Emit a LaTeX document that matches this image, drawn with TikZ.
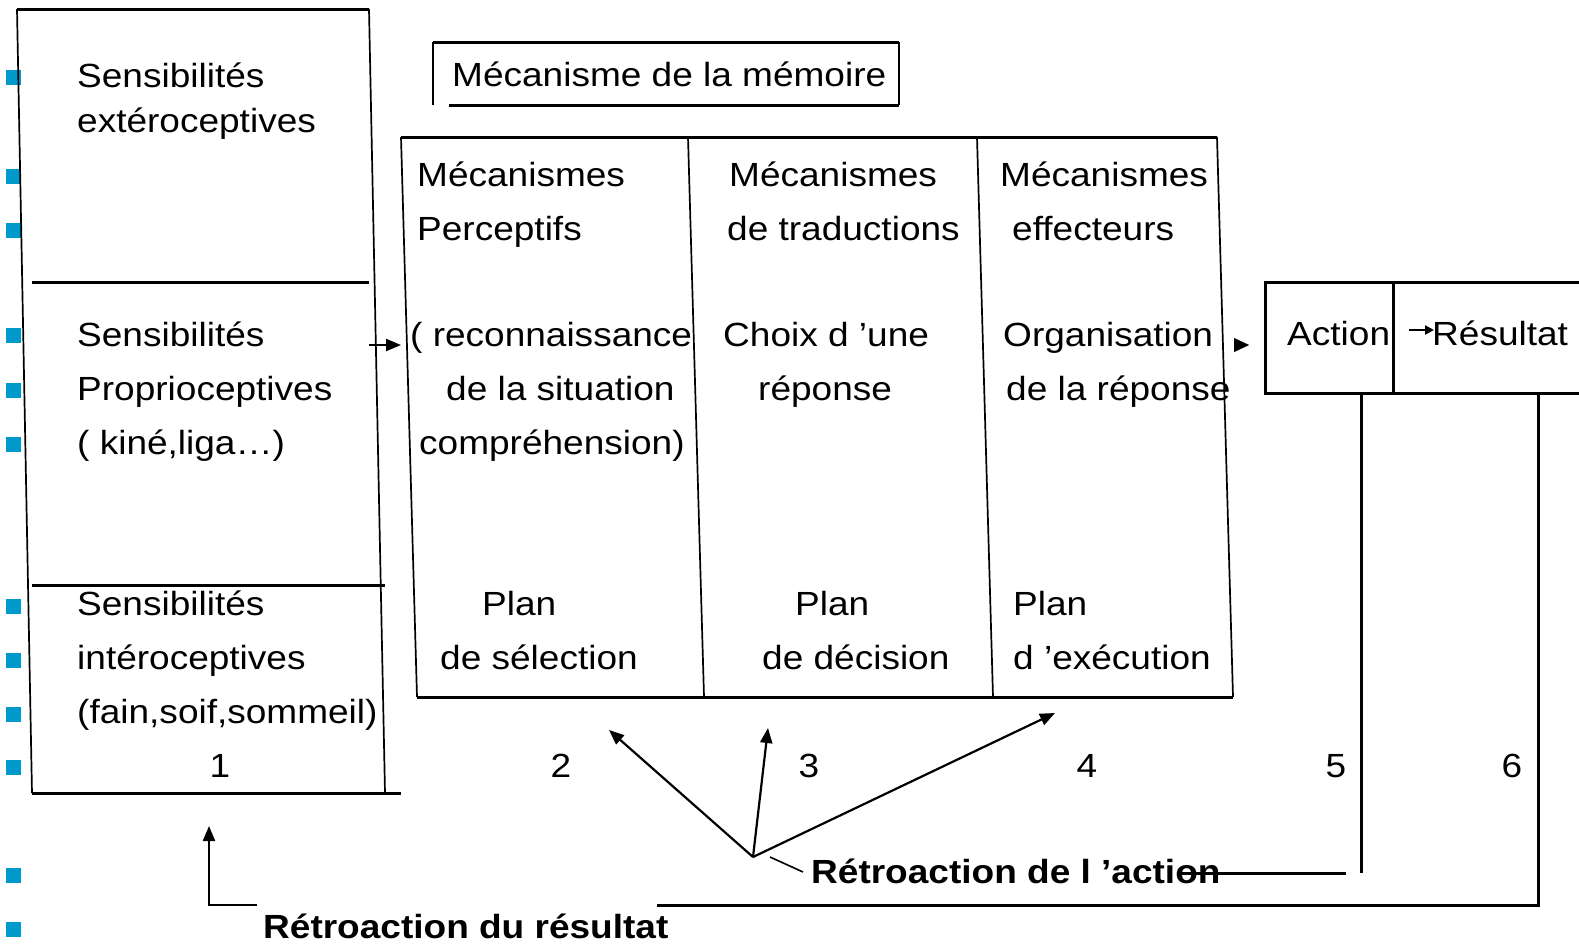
\documentclass[tikz,border=0pt]{standalone}
\usepackage{fontspec}
\setmainfont{Liberation Sans}[FakeStretch=1.105]
\usetikzlibrary{arrows.meta}
\definecolor{bulletblue}{RGB}{0,153,204}
\begin{document}
\begin{tikzpicture}[x=1pt,y=-1pt,
  txt/.style={anchor=base west, inner sep=0pt, font=\fontsize{33.5}{40}\selectfont},
  num/.style={anchor=base, inner sep=0pt, font=\fontsize{33.5}{40}\selectfont},
  btxt/.style={anchor=base west, inner sep=0pt, font=\fontsize{33.5}{40}\selectfont\bfseries},
  thickline/.style={line width=3pt},
  thinline/.style={line width=1.7pt},
  arr/.style={line width=2.2pt, -{Triangle[length=15pt,width=12pt]}},
  smallarr/.style={line width=2.2pt, -{Triangle[length=9pt,width=9pt]}},
  bsq/.style={fill=bulletblue}]
\useasboundingbox (0,0) rectangle (1579,943);

% bullets
\foreach \yy in {77,176,230,335,390,444,606,660,714,767,875,929}
  \fill[bsq] (6,\yy-7.5) rectangle (21,\yy+7.5);

% left box
\coordinate (LTL) at (17,9);
\coordinate (LTR) at (369,9);
\coordinate (LBL) at (32,793);
\coordinate (LBR) at (385,793);
\draw[thinline] (LTL) -- (LBL);
\draw[thinline] (LTR) -- (LBR);
\draw[thickline] (LTL) -- (LTR);
\draw[thickline] (32,282) -- (369,282);
\draw[thickline] (32,585) -- (385,585);
\draw[thickline] (LBL) -- (401,793);

% title box
\draw[thinline] (433,105) -- (433,42);
\draw[thickline] (433,42) -- (899,42);
\draw[thinline] (899,42) -- (899,105);
\draw[thickline] (899,105) -- (449,105);
\node[txt] (title) at (452,86) {Mécanisme de la mémoire};

% big box
\coordinate (BTL) at (401,137);
\coordinate (BTR) at (1217,137);
\coordinate (BBL) at (417,697);
\coordinate (BBR) at (1233,697);
\draw[thickline] (BTL) -- (BTR);
\draw[thickline] (BBL) -- (BBR);
\draw[thinline] (BTL) -- (BBL);
\draw[thinline] (BTR) -- (BBR);
\draw[thinline] (688,137) -- (704,697);
\draw[thinline] (977,137) -- (993,697);

% left column texts
\node[txt] (s1a) at (77,87) {Sensibilités};
\node[txt] (s1b) at (77,132) {extéroceptives};
\node[txt] (s2a) at (77,346) {Sensibilités};
\node[txt] (s2b) at (77,400) {Proprioceptives};
\node[txt] (s2c) at (77,454) {( kiné,liga…)};
\node[txt] (s3a) at (77,615) {Sensibilités};
\node[txt] (s3b) at (77,669) {intéroceptives};
\node[txt] (s3c) at (77,723) {(fain,soif,sommeil)};

% column 2
\node[txt] (c2a) at (417,186) {Mécanismes};
\node[txt] (c2b) at (417,240) {Perceptifs};
\node[txt] (c2c) at (410,346) {( reconnaissance};
\node[txt] (c2d) at (446,400) {de la situation};
\node[txt] (c2e) at (419,454) {compréhension)};
\node[txt] (c2f) at (482,615) {Plan};
\node[txt] (c2g) at (440,669) {de sélection};

% column 3
\node[txt] (c3a) at (729,186) {Mécanismes};
\node[txt] (c3b) at (727,240) {de traductions};
\node[txt] (c3c) at (723,346) {Choix d ’une};
\node[txt] (c3d) at (758,400) {réponse};
\node[txt] (c3f) at (795,615) {Plan};
\node[txt] (c3g) at (762,669) {de décision};

% column 4
\node[txt] (c4a) at (1000,186) {Mécanismes};
\node[txt] (c4b) at (1012,240) {effecteurs};
\node[txt] (c4c) at (1003,346) {Organisation};
\node[txt] (c4d) at (1006,400) {de la réponse};
\node[txt] (c4f) at (1013,615) {Plan};
\node[txt] (c4g) at (1013,669) {d ’exécution};

% numbers
\node[num] (n1) at (220,777) {1};
\node[num] (n2) at (561,777) {2};
\node[num] (n3) at (809,777) {3};
\node[num] (n4) at (1087,777) {4};
\node[num] (n5) at (1336,777) {5};
\node[num] (n6) at (1512,777) {6};

% arrow left box -> big box
\coordinate (a1s) at (369,345);
\coordinate (a1e) at (401,345);
\draw[arr] (a1s) -- (a1e);
% arrow tip big box -> action
\coordinate (a2s) at (1240,345);
\coordinate (a2e) at (1249,345);
\draw[-{Triangle[length=15pt,width=14pt]}, line width=0.1pt] (a2s) -- (a2e);

% action / resultat box
\draw[thickline] (1579,282) -- (1265,282) -- (1265,393) -- (1579,393);
\draw[thickline] (1393,282) -- (1393,393);
\node[txt] (action) at (1287,345) {Action};
\node[txt] (result) at (1432,345) {Résultat};
\coordinate (a3s) at (1409,330);
\coordinate (a3e) at (1434,330);
\draw[smallarr] (a3s) -- (a3e);

% feedback lines
\coordinate (v5t) at (1361,393);
\coordinate (v5b) at (1361,873);
\coordinate (v6t) at (1538,393);
\coordinate (v6b) at (1538,905);
\coordinate (h6e) at (657,905);
\draw[thickline] (v5t) -- (v5b);
\draw[thickline] (v6t) -- (v6b) -- (h6e);
\coordinate (h5s) at (1346,873);
\coordinate (h5e) at (1180,873);
\draw[thickline] (h5s) -- (h5e);

% retroaction du resultat
\coordinate (e1) at (257,905);
\coordinate (e2) at (209,905);
\coordinate (e3) at (209,826);
\draw[arr] (e1) -- (e2) -- (e3);
\node[btxt] (rres) at (263,938) {Rétroaction du résultat};

% fan of arrows
\coordinate (fan) at (753,857);
\coordinate (f2) at (609,730);
\coordinate (f3) at (768,728);
\coordinate (f4) at (1055,713);
\draw[arr] (fan) -- (f2);
\draw[arr] (fan) -- (f3);
\draw[arr] (fan) -- (f4);
\coordinate (t1) at (770,857);
\coordinate (t2) at (803,872);
\draw[line width=1.6pt] (t1) -- (t2);
\node[btxt] (ract) at (811,883) {Rétroaction de l ’action};
\end{tikzpicture}
\end{document}
